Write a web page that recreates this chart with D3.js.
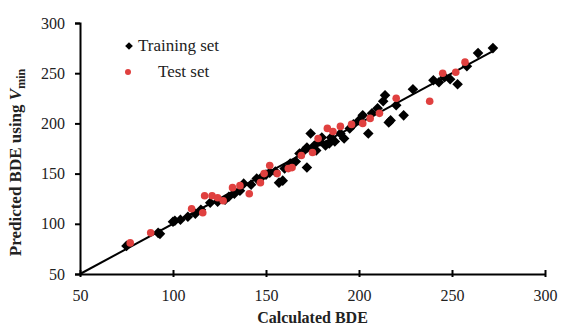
<!DOCTYPE html>
<html>
<head>
<meta charset="utf-8">
<script src="https://cdn.jsdelivr.net/npm/d3@7"></script>
<style>
  body { margin: 0; background: #fff; }
  svg text { font-family: "Liberation Serif", "Times New Roman", serif; }
</style>
</head>
<body>
<div id="chart"></div>
<script>
// Training set: [calculated BDE, predicted BDE]
const trainingSet = [
  [75, 78], [92, 91], [93, 90], [100, 102], [101, 103], [104, 104], [108, 107],
  [112, 110], [115, 114], [120, 121], [124, 122], [128, 124], [130, 127],
  [133, 130], [136, 133], [138, 140], [142, 139], [145, 145], [148, 147],
  [150, 149], [152, 151], [155, 152], [157, 141], [159, 143], [160, 155],
  [163, 160], [166, 162], [168, 170], [170, 172], [172, 156], [172, 176],
  [174, 190], [176, 178], [177, 173], [179, 182], [180, 186], [182, 178],
  [184, 180], [185, 186], [187, 182], [190, 190], [192, 185], [195, 195],
  [197, 199], [200, 203], [202, 208], [205, 190], [207, 210], [210, 215],
  [213, 222], [214, 228], [216, 201], [217, 203], [220, 218], [224, 208],
  [229, 234], [240, 243], [243, 241], [246, 246], [249, 244], [253, 239],
  [258, 257], [264, 270], [272, 275]
];

const testSet = [
  [77, 81], [88, 91], [110, 115], [116, 111], [117, 128], [121, 128],
  [124, 126], [127, 123], [132, 136], [136, 138], [141, 130], [147, 141],
  [149, 150], [152, 158], [156, 150], [162, 155], [164, 156], [169, 168],
  [175, 171], [178, 185], [183, 195], [186, 192], [190, 197], [196, 199],
  [202, 200], [206, 205], [211, 210], [220, 225], [238, 222], [245, 250],
  [252, 251], [257, 261]
];

const fitLine = [[50, 50], [272, 272]];

const xTicks = [50, 100, 150, 200, 250, 300];
const yTicks = [50, 100, 150, 200, 250, 300];

const legendItems = ["Training set", "Test set"];

const width = 561, height = 331;
const margin = { top: 23, right: 16, bottom: 57, left: 80 };

const svg = d3.select('#chart')
  .append('svg')
  .attr('width', width)
  .attr('height', height);

const x = d3.scaleLinear().domain([50, 300]).range([margin.left, width - margin.right]);
const y = d3.scaleLinear().domain([50, 300]).range([height - margin.bottom, margin.top]);

// Axes
const xAxis = svg.append('g')
  .attr('transform', `translate(0,${y(50)})`)
  .call(d3.axisBottom(x).tickValues(xTicks).tickSize(0).tickPadding(16));
xAxis.select('.domain').attr('stroke', '#000').attr('stroke-width', 2);
xAxis.selectAll('.tick').append('line')
  .attr('y1', -4).attr('y2', 3)
  .attr('stroke', '#000').attr('stroke-width', 2);
xAxis.selectAll('text').attr('font-size', 16).attr('fill', '#222');

const yAxis = svg.append('g')
  .attr('transform', `translate(${x(50)},0)`)
  .call(d3.axisLeft(y).tickValues(yTicks).tickSize(5).tickPadding(10));
yAxis.select('.domain').attr('stroke', '#000').attr('stroke-width', 2);
yAxis.selectAll('.tick line').attr('stroke', '#000').attr('stroke-width', 2);
yAxis.selectAll('text').attr('font-size', 16).attr('fill', '#222');

// Fit line
svg.append('path')
  .datum(fitLine)
  .attr('fill', 'none')
  .attr('stroke', '#000')
  .attr('stroke-width', 2)
  .attr('d', d3.line().x(d => x(d[0])).y(d => y(d[1])));

// Points
svg.append('g')
  .selectAll('path')
  .data(trainingSet)
  .join('path')
  .attr('d', d3.symbol(d3.symbolSquare, 56))
  .attr('transform', d => `translate(${x(d[0])},${y(d[1])}) rotate(45)`)
  .attr('fill', '#000');

svg.append('g')
  .selectAll('circle')
  .data(testSet)
  .join('circle')
  .attr('cx', d => x(d[0]))
  .attr('cy', d => y(d[1]))
  .attr('r', 3.8)
  .attr('fill', '#e0403f');

// Legend
const legend = svg.append('g');
legend.append('path')
  .attr('d', d3.symbol(d3.symbolSquare, 30))
  .attr('transform', 'translate(129,46) rotate(45)')
  .attr('fill', '#000');
legend.append('text')
  .attr('x', 138).attr('y', 51)
  .attr('font-size', 17)
  .attr('fill', '#222')
  .text(legendItems[0]);
legend.append('circle')
  .attr('cx', 128).attr('cy', 72).attr('r', 3)
  .attr('fill', '#e0403f');
legend.append('text')
  .attr('x', 158).attr('y', 77)
  .attr('font-size', 17)
  .attr('fill', '#222')
  .text(legendItems[1]);

// Axis titles
svg.append('text')
  .attr('x', (x(50) + x(300)) / 2)
  .attr('y', 323)
  .attr('text-anchor', 'middle')
  .attr('font-size', 16)
  .attr('font-weight', 'bold')
  .attr('fill', '#222')
  .text('Calculated BDE');

const yTitle = svg.append('text')
  .attr('transform', `translate(21,${(y(50) + y(300)) / 2 + 14}) rotate(-90)`)
  .attr('text-anchor', 'middle')
  .attr('font-size', 17)
  .attr('font-weight', 'bold')
  .attr('fill', '#222');
yTitle.append('tspan').text('Predicted BDE  using ');
yTitle.append('tspan').attr('font-style', 'italic').text('V');
yTitle.append('tspan').attr('font-size', 12).attr('dy', 4).text('min');
</script>
</body>
</html>
